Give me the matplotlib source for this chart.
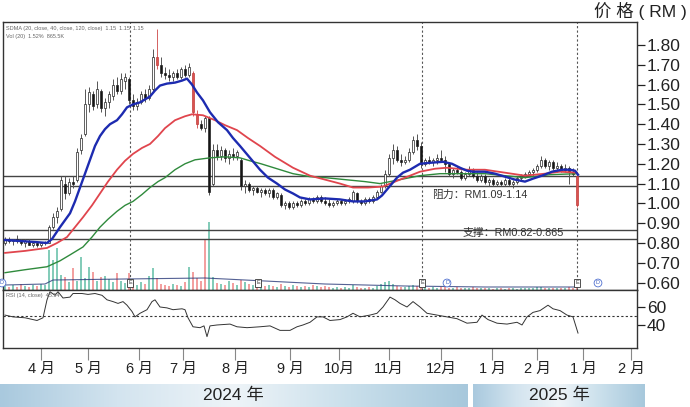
import numpy as np
import matplotlib
matplotlib.use('Agg')  # no display on the server
import matplotlib.pyplot as plt
from matplotlib.colors import LinearSegmentedColormap

plt.rcParams['font.family'] = ['Liberation Sans', 'Noto Sans CJK SC', 'DejaVu Sans']

# ---- daily candles (x = trading day index) ----
opens = [0.80, 0.82, 0.81, 0.82, 0.81, 0.80, 0.81, 0.79, 0.80, 0.79, 0.80,
         0.80, 0.88, 0.93, 0.97, 1.10, 1.05, 1.11, 1.12, 1.27, 1.35, 1.50,
         1.55, 1.50, 1.57, 1.48, 1.51, 1.54, 1.60, 1.57, 1.62, 1.63, 1.52,
         1.49, 1.51, 1.55, 1.53, 1.58, 1.74, 1.70, 1.66, 1.65, 1.64, 1.66,
         1.64, 1.68, 1.65, 1.66, 1.45, 1.40, 1.38, 1.43, 1.10, 1.27, 1.24,
         1.27, 1.23, 1.25, 1.24, 1.22, 1.09, 1.10, 1.07, 1.08, 1.06, 1.07,
         1.05, 1.07, 1.03, 1.04, 0.99, 1.00, 0.98, 1.00, 0.99, 1.01, 1.00,
         1.02, 1.01, 1.03, 1.01, 1.00, 0.99, 1.00, 1.01, 1.00, 1.01, 1.01,
         1.05, 1.01, 1.00, 1.02, 1.01, 1.03, 1.06, 1.09, 1.15, 1.23, 1.27,
         1.22, 1.21, 1.22, 1.26, 1.32, 1.29, 1.20, 1.22, 1.21, 1.22, 1.23,
         1.22, 1.20, 1.15, 1.17, 1.16, 1.13, 1.15, 1.17, 1.14, 1.12, 1.14,
         1.11, 1.12, 1.10, 1.11, 1.10, 1.12, 1.10, 1.11, 1.13, 1.14, 1.15,
         1.16, 1.17, 1.19, 1.22, 1.19, 1.21, 1.18, 1.19, 1.17, 1.18, 1.16,
         1.14]
highs = [0.83, 0.83, 0.82, 0.84, 0.82, 0.82, 0.82, 0.81, 0.81, 0.80, 0.81,
         0.89, 0.95, 0.98, 1.14, 1.14, 1.13, 1.14, 1.28, 1.35, 1.58, 1.59,
         1.57, 1.62, 1.58, 1.53, 1.57, 1.63, 1.64, 1.66, 1.66, 1.64, 1.55,
         1.53, 1.57, 1.58, 1.60, 1.78, 1.88, 1.74, 1.69, 1.68, 1.67, 1.68,
         1.69, 1.70, 1.71, 1.67, 1.47, 1.42, 1.44, 1.44, 1.30, 1.30, 1.29,
         1.28, 1.27, 1.28, 1.27, 1.23, 1.12, 1.11, 1.09, 1.09, 1.08, 1.08,
         1.08, 1.08, 1.06, 1.05, 1.01, 1.01, 1.01, 1.01, 1.02, 1.02, 1.03,
         1.03, 1.04, 1.04, 1.03, 1.02, 1.01, 1.02, 1.02, 1.02, 1.03, 1.07,
         1.06, 1.02, 1.03, 1.03, 1.04, 1.07, 1.10, 1.17, 1.25, 1.30, 1.29,
         1.25, 1.24, 1.28, 1.34, 1.35, 1.31, 1.23, 1.24, 1.23, 1.25, 1.27,
         1.24, 1.21, 1.18, 1.19, 1.17, 1.16, 1.19, 1.18, 1.16, 1.15, 1.15,
         1.13, 1.13, 1.12, 1.12, 1.13, 1.13, 1.12, 1.14, 1.15, 1.16, 1.17,
         1.18, 1.20, 1.24, 1.23, 1.22, 1.22, 1.21, 1.20, 1.20, 1.19, 1.18,
         1.15]
lows = [0.79, 0.80, 0.79, 0.80, 0.79, 0.78, 0.79, 0.78, 0.78, 0.78, 0.79,
        0.80, 0.87, 0.90, 0.96, 1.02, 1.04, 1.08, 1.11, 1.25, 1.34, 1.46,
        1.47, 1.48, 1.46, 1.44, 1.48, 1.52, 1.55, 1.55, 1.58, 1.50, 1.47,
        1.47, 1.50, 1.51, 1.52, 1.57, 1.68, 1.64, 1.63, 1.62, 1.62, 1.63,
        1.63, 1.64, 1.64, 1.44, 1.38, 1.37, 1.36, 1.04, 1.09, 1.22, 1.22,
        1.21, 1.20, 1.22, 1.22, 1.07, 1.05, 1.06, 1.04, 1.05, 1.03, 1.04,
        1.03, 1.02, 1.02, 0.98, 0.97, 0.97, 0.97, 0.98, 0.98, 0.99, 0.99,
        1.00, 1.00, 1.00, 0.99, 0.98, 0.98, 0.99, 0.99, 0.99, 1.00, 1.00,
        1.00, 0.99, 0.99, 1.00, 1.00, 1.02, 1.05, 1.08, 1.14, 1.20, 1.21,
        1.19, 1.20, 1.21, 1.25, 1.27, 1.18, 1.19, 1.20, 1.19, 1.20, 1.21,
        1.16, 1.14, 1.13, 1.15, 1.12, 1.12, 1.14, 1.13, 1.11, 1.11, 1.10,
        1.09, 1.09, 1.09, 1.09, 1.09, 1.09, 1.08, 1.10, 1.12, 1.13, 1.14,
        1.14, 1.16, 1.18, 1.18, 1.17, 1.17, 1.16, 1.16, 1.16, 1.10, 1.14,
        0.98]
closes = [0.82, 0.81, 0.82, 0.81, 0.80, 0.81, 0.79, 0.80, 0.79, 0.80, 0.80,
          0.88, 0.93, 0.96, 1.12, 1.05, 1.11, 1.10, 1.26, 1.33, 1.50, 1.56,
          1.49, 1.58, 1.48, 1.51, 1.55, 1.60, 1.57, 1.63, 1.64, 1.52, 1.49,
          1.51, 1.55, 1.53, 1.58, 1.74, 1.70, 1.66, 1.65, 1.64, 1.66, 1.64,
          1.68, 1.65, 1.69, 1.46, 1.40, 1.38, 1.43, 1.06, 1.27, 1.24, 1.27,
          1.23, 1.25, 1.24, 1.26, 1.09, 1.10, 1.07, 1.08, 1.06, 1.07, 1.05,
          1.07, 1.03, 1.05, 0.99, 1.00, 0.98, 1.00, 0.99, 1.01, 1.00, 1.02,
          1.01, 1.03, 1.01, 1.00, 0.99, 1.00, 1.01, 1.00, 1.01, 1.02, 1.06,
          1.01, 1.00, 1.02, 1.01, 1.03, 1.06, 1.09, 1.15, 1.23, 1.27, 1.22,
          1.21, 1.22, 1.26, 1.32, 1.29, 1.20, 1.22, 1.21, 1.22, 1.23, 1.22,
          1.20, 1.15, 1.17, 1.16, 1.13, 1.15, 1.17, 1.14, 1.12, 1.14, 1.11,
          1.12, 1.10, 1.11, 1.10, 1.12, 1.10, 1.11, 1.13, 1.14, 1.15, 1.16,
          1.17, 1.19, 1.22, 1.19, 1.21, 1.18, 1.19, 1.17, 1.18, 1.16, 1.15,
          0.99]
red_days = [38, 47, 48, 143]

volume = [4, 3, 5, 3, 6, 4, 3, 5, 4, 6, 5,
          40, 30, 42, 15, 13, 8, 22, 9, 33, 12, 23,
          18, 9, 13, 14, 11, 8, 17, 9, 7, 17, 6,
          5, 8, 6, 14, 22, 12, 6, 5, 4, 6, 5,
          4, 8, 23, 18, 12, 9, 50, 68, 13, 7, 6,
          5, 9, 7, 5, 10, 8, 6, 5, 4, 6, 4,
          5, 4, 3, 6, 4, 3, 5, 4, 3, 4, 3,
          5, 4, 3, 4, 3, 2, 3, 2, 3, 2, 5,
          3, 2, 2, 3, 2, 4, 6, 8, 9, 6, 4,
          3, 3, 4, 5, 4, 5, 3, 2, 3, 2, 3,
          3, 2, 2, 3, 2, 2, 2, 3, 2, 2, 2,
          2, 1, 2, 2, 1, 2, 2, 1, 2, 2, 2,
          2, 3, 3, 2, 2, 2, 2, 2, 2, 3, 2,
          6]
vol_red_days = [50]
vol_green_days = [51]
vol_ma_day = [0, 10, 12, 30, 50, 60, 80, 100, 120, 143]
vol_ma = [5, 6, 10, 11, 12, 10, 6, 4, 3, 3]

# ---- moving averages ----
blue_day = [0, 3.75, 7.5, 10.5, 11.75, 12.75, 13.75, 15, 16.25, 17.5, 18.75,
            20, 21.25, 22.5, 23.75, 25, 26.25, 28, 29.25, 30.5, 32, 33.75,
            35, 36.25, 37.5, 38.75, 40.5, 42.5, 44.25, 45.5, 46.75, 48, 49.5,
            51.25, 53.25, 55.5, 57, 58.75, 61.25, 63.75, 65.75, 68, 70, 72,
            73.75, 76.25, 80, 83.75, 87, 90, 93, 94.25, 95.5, 96.75, 98, 99.5,
            101.25, 103.75, 106.25, 109.5, 111.75, 113.75, 115.5, 117, 120,
            122.5, 125, 127.5, 130, 132, 134.25, 136.75, 139.25, 141.25,
            142.5, 143.25]
blue_ma = [0.815, 0.81, 0.805, 0.80, 0.82, 0.85, 0.88, 0.915, 0.95, 1.01, 1.08,
           1.15, 1.22, 1.29, 1.34, 1.375, 1.40, 1.42, 1.45, 1.485, 1.50, 1.51,
           1.525, 1.54, 1.57, 1.595, 1.605, 1.61, 1.62, 1.63, 1.60, 1.56, 1.52,
           1.46, 1.41, 1.37, 1.33, 1.29, 1.23, 1.17, 1.13, 1.10, 1.07, 1.05,
           1.03, 1.02, 1.025, 1.02, 1.01, 1.01, 1.02, 1.04, 1.07, 1.10, 1.13, 1.155,
           1.17, 1.20, 1.205, 1.21, 1.20, 1.18, 1.165, 1.16, 1.16,
           1.15, 1.135, 1.12, 1.11, 1.125, 1.14, 1.16, 1.17, 1.17,
           1.165, 1.145]
red_day = [0, 5, 10.5, 13, 15.5, 17.5, 19.5, 21.75, 23.75, 25.75, 28, 30, 32,
           34.25, 36.25, 38.25, 40, 42.5, 45, 46.75, 49.5, 52.5, 55, 58, 60.75,
           63.75, 67.5, 72, 76.25, 80, 83.75, 87, 90.75, 94.5, 98.75, 103.75,
           107.5, 110.5, 115.5, 120, 125, 130, 135, 138.75, 143]
red_ma = [0.75, 0.76, 0.775, 0.80, 0.83, 0.88, 0.93, 0.99, 1.05, 1.11, 1.17,
          1.215, 1.25, 1.28, 1.30, 1.34, 1.38, 1.42, 1.44, 1.45, 1.445, 1.42,
          1.395, 1.37, 1.33, 1.29, 1.235, 1.18, 1.14, 1.12, 1.10, 1.08, 1.08,
          1.085, 1.12, 1.16, 1.175, 1.18, 1.17, 1.17, 1.155, 1.14, 1.15, 1.16,
          1.155]
green_day = [0, 5, 10.5, 13.75, 16.25, 19.5, 21.75, 23.75, 25.75, 28, 30, 32,
             34.25, 36.25, 38.25, 40, 42.5, 45, 47.5, 51.25, 55, 58.75, 61.25,
             64, 68, 72, 76.25, 80, 85, 90, 93.75, 98.75, 103.75, 108.75,
             113.75, 120, 125, 130, 136.25, 143]
green_ma = [0.65, 0.665, 0.68, 0.71, 0.74, 0.78, 0.83, 0.88, 0.92, 0.96, 0.99,
            1.01, 1.045, 1.08, 1.11, 1.13, 1.17, 1.20, 1.22, 1.23, 1.235, 1.23,
            1.215, 1.20, 1.175, 1.15, 1.135, 1.13, 1.12, 1.11, 1.10, 1.12, 1.14,
            1.15, 1.15, 1.15, 1.14, 1.13, 1.145, 1.15]

# ---- RSI ----
rsi_day = [0, 2, 5, 8, 9.5, 10.5, 11.25, 12.5, 13.25, 14.5, 16.25, 17, 19.25,
           20.75, 22.5, 24.25, 25.5, 27, 28.25, 29.5, 30.5, 31.75, 32.5, 33.75,
           35.5, 36.75, 37.5, 38.75, 40.5, 42, 44.25, 45, 45.75, 47, 48.75,
           49.75, 50.5, 51.25, 53, 56.25, 58, 60.5, 63.75, 66.25, 68.75, 71.25,
           73, 74.5, 76.25, 78, 79.5, 81.25, 83.75, 85.5, 87, 88.75, 91.25, 93,
           94.5, 96.25, 97.5, 98.75, 100.5, 102, 103.75, 105.5, 108, 110.5, 113,
           115.5, 118, 119.25, 120.75, 123, 125.5, 128, 129.25, 130.5, 132,
           133.75, 135.75, 137, 138.75, 140.5, 142, 143.25]
rsi = [51, 49, 48, 45, 48, 68, 77, 73, 77, 70, 71, 75, 75,
       74, 75, 73, 68, 66, 64, 66, 62, 55, 49, 53,
       57, 66, 68, 60, 59, 57, 58, 57, 48, 38, 37,
       39, 27, 39, 40, 41, 38, 37, 38, 39, 34, 34,
       38, 40, 43, 49, 49, 45, 46, 49, 53, 49, 51, 53,
       60, 71, 68, 64, 60, 66, 60, 53, 51, 49, 47,
       42, 43, 51, 46, 42, 41, 43, 40, 49, 54,
       56, 62, 58, 56, 51, 49, 31]

# ---- levels, markers, axis labels ----
resist = [1.09, 1.14]
support = [0.82, 0.865]
cycle_days = [31.25, 104.25, 143]
box_days = [31.25, 63.25, 104.25, 143]
circle_days = [-0.75, 110.5, 148.25]
month_pos = [9, 20.75, 33.5, 44.5, 57.5, 71.25, 83.5, 96, 109, 121.75, 133, 144.5, 156.5]
month_labels = ['4 月', '5 月', '6 月', '7 月', '8 月', '9 月', '10月', '11月',
                '12月', '1 月', '2 月', '1 月', '2 月']
price_ticks = [0.6, 0.7, 0.8, 0.9, 1.0, 1.1, 1.2, 1.3, 1.4, 1.5, 1.6, 1.7, 1.8]
rsi_ticks = [40, 60]

W, H = 690, 407


def box(x0, y0, x1, y1):
    # pixel box -> figure fraction
    return [x0 / W, 1 - y1 / H, (x1 - x0) / W, (y1 - y0) / H]


fig = plt.figure(figsize=(W / 100, H / 100), dpi=100)
XLIM = (-0.5, 158)

# volume behind the price panel
axv = fig.add_axes(box(3, 200, 637, 290))
axv.set_xlim(*XLIM)
axv.set_ylim(0, 90)
axv.axis('off')
days = np.arange(len(closes))
o = np.array(opens); c = np.array(closes)
vcol = np.where(c >= o, '#6fc3ad', '#f19090').astype(object)
for d in vol_red_days:
    vcol[d] = '#f19090'
for d in vol_green_days:
    vcol[d] = '#6fc3ad'
axv.bar(days, volume, width=0.7, color=list(vcol), alpha=0.85, linewidth=0)
axv.plot(vol_ma_day, vol_ma, color='#2a3a7a', lw=0.8, alpha=0.8)

# price panel
ax = fig.add_axes(box(3, 22, 637, 290))
ax.set_facecolor('none')
ax.set_xlim(*XLIM)
ax.set_ylim(0.5626, 1.916)

up = c >= o
body_lo = np.minimum(o, c)
body_h = np.maximum(np.abs(c - o), 0.006)
cand_face = np.where(up, 'white', '#151515').astype(object)
cand_edge = np.full(len(c), '#222222', dtype=object)
wick_col = np.full(len(c), '#555555', dtype=object)
for d in red_days:
    cand_face[d] = '#d9534f'
    cand_edge[d] = '#c23a3a'
    wick_col[d] = '#d46060'
ax.vlines(days, lows, highs, colors=list(wick_col), lw=0.7, zorder=3)
ax.bar(days, body_h, bottom=body_lo, width=0.6, color=list(cand_face),
       edgecolor=list(cand_edge), linewidth=0.5, zorder=4)

ax.plot(green_day, green_ma, color='#2f8a3c', lw=1.0, zorder=5)
ax.plot(red_day, red_ma, color='#e0454d', lw=1.3, zorder=5)
ax.plot(blue_day, blue_ma, color='#1d2bb0', lw=1.7, zorder=6)

for lvl in resist + support:
    ax.axhline(lvl, color='#444444', lw=1.0, zorder=2)
for d in cycle_days:
    ax.axvline(d, color='#555555', lw=0.8, ls=(0, (2, 2)), zorder=2)

ax.text(106.75, 1.045, '阻力：RM1.09-1.14', fontsize=7.8, color='#333333',
        va='center', ha='left', zorder=7)
ax.text(114.5, 0.849, '支撑：RM0.82-0.865', fontsize=7.8, color='#333333',
        va='center', ha='left', zorder=7)

for d in box_days:
    ax.text(d, 0.598, 'E', fontsize=4, ha='center', va='center', color='#333333',
            bbox=dict(boxstyle='square,pad=0.25', fc='white', ec='#333333', lw=0.6), zorder=7)
for d in circle_days:
    ax.text(d, 0.598, 'D', fontsize=4, ha='center', va='center', color='#4060c0',
            bbox=dict(boxstyle='circle,pad=0.25', fc='white', ec='#5070d0', lw=0.6), zorder=7)

ax.text(0.005, 0.985, 'SDMA (20, close, 40, close, 120, close)  1.15  1.15  1.15',
        transform=ax.transAxes, fontsize=4, color='#666666', va='top')
ax.text(0.005, 0.955, 'Vol (20)  1.52%  865.5K', transform=ax.transAxes,
        fontsize=4, color='#666666', va='top')

ax.yaxis.tick_right()
ax.set_yticks(price_ticks)
ax.set_yticklabels([f'{t:.2f}' for t in price_ticks])
ax.tick_params(axis='y', direction='out', length=6, width=0.9, pad=1,
               labelsize=12.5, colors='#222222')
ax.set_xticks([])
for s in ax.spines.values():
    s.set_color('#333333')
    s.set_linewidth(1.0)

# RSI panel
axr = fig.add_axes(box(3, 290, 637, 348))
axr.set_xlim(*XLIM)
axr.set_ylim(14.4, 78.9)
axr.plot(rsi_day, rsi, color='#333333', lw=0.7)
axr.axhline(50, color='#333333', lw=0.8, ls=(0, (2, 2)))
axr.text(0.005, 0.95, 'RSI (14, close)  45.54', transform=axr.transAxes,
         fontsize=4, color='#666666', va='top')
axr.yaxis.tick_right()
axr.set_yticks(rsi_ticks)
axr.tick_params(axis='y', direction='out', length=6, width=0.9, pad=1,
                labelsize=12.5, colors='#222222')
axr.set_xticks(month_pos)
axr.set_xticklabels(month_labels)
axr.tick_params(axis='x', direction='out', length=8.5, width=0.8, color='#888888',
                pad=1.5, labelsize=10.5, labelcolor='#222222')
for s in axr.spines.values():
    s.set_color('#333333')
    s.set_linewidth(1.0)

fig.text(640 / W, 1 - 11 / H, '价 格 ( RM )', fontsize=12.5, ha='center',
         va='center', color='#222222')

# year band at the bottom
axb = fig.add_axes(box(0, 384, 690, 407))
axb.set_xlim(0, W)
axb.set_ylim(0, 1)
axb.axis('off')
band = LinearSegmentedColormap.from_list(
    'band', ['#a9c9de', '#d3e4ef', '#eef4f8', '#c9dfeb', '#a7c8dc'])
grad = np.linspace(0, 1, 256).reshape(1, -1)
axb.imshow(grad, extent=(0, 468, 0, 1), aspect='auto', cmap=band)
axb.imshow(grad, extent=(473, 645, 0, 1), aspect='auto', cmap=band)
axb.text(233, 0.5, '2024 年', fontsize=12.5, ha='center', va='center', color='#222222')
axb.text(559, 0.5, '2025 年', fontsize=12.5, ha='center', va='center', color='#222222')

fig.savefig('out.png', dpi=100)
plt.close(fig)
